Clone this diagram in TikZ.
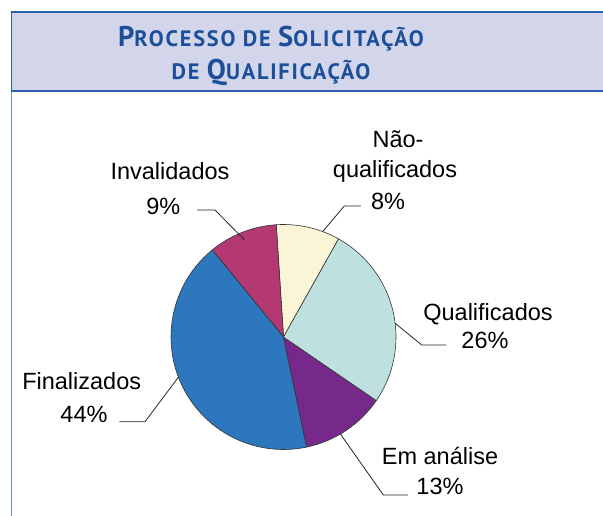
\documentclass[tikz,border=0pt]{standalone}
\usepackage{fontspec}
\setmainfont{Liberation Sans}
\newfontfamily\titlefont{PT Sans}[LetterSpace=8]
\usetikzlibrary{calc}

\definecolor{bandfill}{HTML}{D3D6EB}
\definecolor{framecol}{HTML}{2D5FAA}
\definecolor{titlecol}{HTML}{1C4F9A}
\definecolor{fincol}{HTML}{2C77BD}
\definecolor{emacol}{HTML}{77298B}
\definecolor{qualcol}{HTML}{BEE1E0}
\definecolor{naoqcol}{HTML}{FAF5D6}
\definecolor{invcol}{HTML}{B43871}

\newcommand{\tcap}[2]{{\fontsize{28.5}{28}\selectfont #1}{\fontsize{22.3}{22}\selectfont #2}}

\tikzset{
  slice/.style={draw=black!80, line width=0.6pt},
  leader/.style={draw=black!85, line width=0.8pt},
  lbl/.style={font=\fontsize{23.5}{28}\selectfont, inner sep=0pt, anchor=base},
  ttl/.style={font=\titlefont\bfseries\fontsize{22.3}{22}\selectfont, text=titlecol, inner sep=0pt, anchor=base}
}

\begin{document}
\begin{tikzpicture}[x=1pt, y=1pt]
\useasboundingbox (0,0) rectangle (603,516);
% frame and title band
\draw[framecol!70, line width=1.2pt] (11.5,425.3) -- (11.5,-5);
\draw[framecol, line width=1.8pt, fill=bandfill] (11.5,425.3) rectangle (615,504.3);
\node[ttl] (title1) at (271,469.3) {\tcap{P}{ROCESSO} \tcap{}{DE} \tcap{S}{OLICITAÇÃO}};
\node[ttl] (title2) at (271,436) {\tcap{}{DE} \tcap{Q}{UALIFICAÇÃO}};
% pie
\coordinate (o) at (283.5,179);
\draw[slice, fill=naoqcol] (o) -- ++(60.7:112.5) arc[start angle=60.7, end angle=93.7, radius=112.5] -- cycle;
\draw[slice, fill=invcol] (o) -- ++(93.7:112.5) arc[start angle=93.7, end angle=129.3, radius=112.5] -- cycle;
\draw[slice, fill=fincol] (o) -- ++(129.3:112.5) arc[start angle=129.3, end angle=281.9, radius=112.5] -- cycle;
\draw[slice, fill=emacol] (o) -- ++(281.9:112.5) arc[start angle=281.9, end angle=325.6, radius=112.5] -- cycle;
\draw[slice, fill=qualcol] (o) -- ++(325.6:112.5) arc[start angle=325.6, end angle=420.7, radius=112.5] -- cycle;
% labels
\node[lbl] (inv) at (170,336) {Invalidados};
\node[lbl] (inv-p) at (163.3,301.7) {9\%};
\node[lbl] (naoq) at (398,368.3) {Não-};
\node[lbl] (naoq2) at (395,338) {qualificados};
\node[lbl] (naoq-p) at (388,306) {8\%};
\node[lbl] (qual) at (488,195.3) {Qualificados};
\node[lbl] (qual-p) at (485,167) {26\%};
\node[lbl] (ema) at (440,51) {Em análise};
\node[lbl] (ema-p) at (440,21) {13\%};
\node[lbl] (fin) at (81.7,126.7) {Finalizados};
\node[lbl] (fin-p) at (84,93.3) {44\%};
% leader lines
\coordinate (inv-e) at ($(o)+(112:105)$);
\coordinate (inv-k) at (215,306);
\coordinate (naoq-e) at ($(o)+(69.6:112.5)$);
\coordinate (naoq-k) at (344.3,310);
\coordinate (qual-e) at ($(o)+(7:112.5)$);
\coordinate (qual-k) at (421.7,171);
\coordinate (ema-e) at ($(o)+(-59.6:112.5)$);
\coordinate (ema-k) at (383.3,21);
\coordinate (fin-e) at ($(o)+(200.9:112.5)$);
\coordinate (fin-k) at (145,94.3);
\draw[leader, shorten <=16.7pt] (inv-p.east |- inv-k) -- (inv-k) -- (inv-e);
\draw[leader, shorten <=10pt] (naoq-p.west |- naoq-k) -- (naoq-k) -- (naoq-e);
\draw[leader, shorten <=15pt] (qual-p.west |- qual-k) -- (qual-k) -- (qual-e);
\draw[leader, shorten <=8.4pt] (ema-p.west |- ema-k) -- (ema-k) -- (ema-e);
\draw[leader, shorten <=11.7pt] (fin-p.east |- fin-k) -- (fin-k) -- (fin-e);
\end{tikzpicture}
\end{document}
